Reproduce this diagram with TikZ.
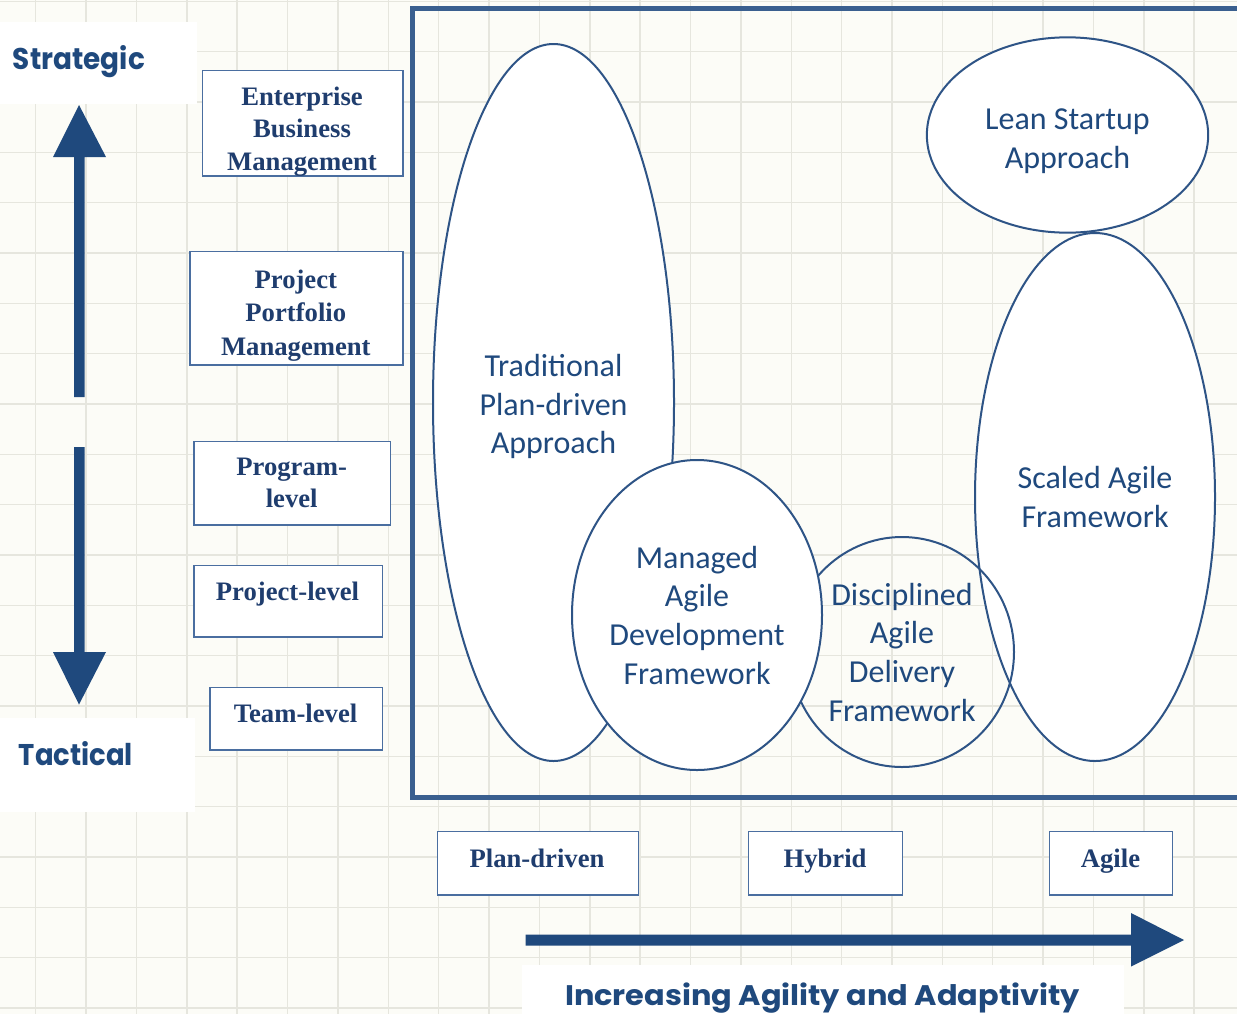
\documentclass[tikz,border=0pt]{standalone}
\usepackage{fontspec}
\setmainfont{Liberation Serif}
\newfontfamily\calfont{Carlito}
\newfontfamily\geofont{Poppins}
\usetikzlibrary{shapes.geometric}
\definecolor{bgc}{HTML}{FCFCF7}
\definecolor{gridc}{HTML}{E6E6DE}
\definecolor{navy}{HTML}{1F497D}
\definecolor{framec}{HTML}{3A5F8F}
\definecolor{boxc}{HTML}{4A6EA0}
\definecolor{ellc}{HTML}{2E5486}
\definecolor{boxtext}{HTML}{1F3D6E}
\tikzset{
  lvlbox/.style={draw=boxc, line width=1.1pt, fill=white, inner sep=0pt, anchor=north west},
  boxlabel/.style={text=boxtext, font=\fontsize{20pt}{24.5pt}\selectfont\bfseries, align=center, inner sep=0pt},
  approach/.style={ellipse, draw=ellc, line width=1.5pt, fill=white, inner sep=0pt, align=center,
     text=navy, font=\calfont\fontsize{24pt}{29pt}\selectfont},
  bigarrow/.style={fill=navy, draw=none},
  whitepatch/.style={fill=white, draw=none},
  axislabel/.style={text=navy, inner sep=0pt, anchor=base}
}
\begin{document}
\begin{tikzpicture}[x=0.75pt,y=-0.75pt]
\useasboundingbox (0,0) rectangle (1237,1014);
\clip (0,0) rectangle (1237,1014);
% background and grid
\fill[bgc] (0,0) rectangle (1237,1014);
\foreach \k in {0,...,24} {
  \draw[gridc, line width=1.1pt] ({35.7+50.37*\k},0) -- ({35.7+50.37*\k},1014);
}
\foreach \k in {0,...,20} {
  \draw[gridc, line width=1.1pt] (0,{1.3+50.33*\k}) -- (1237,{1.3+50.33*\k});
}
% white patches
\fill[whitepatch] (0,22) rectangle (197,104);
\fill[whitepatch] (0,718) rectangle (195,812);
\fill[whitepatch] (522,965) rectangle (1124,1014);

% axis labels
\node[axislabel] (strategic) at (79,69) {\resizebox{99pt}{18pt}{\geofont\bfseries Strategic}};
\node[axislabel] (tactical) at (76,765.7) {\resizebox{85.5pt}{18pt}{\geofont\bfseries Tactical}};
\node[axislabel] (increasing) at (822.5,1005.5) {\resizebox{386pt}{17pt}{\geofont\bfseries Increasing Agility and Adaptivity}};

% big arrows
\fill[bigarrow] (74,397) -- (74,157) -- (53,157) -- (79,105) -- (106,157) -- (84.5,157) -- (84.5,397) -- cycle;
\fill[bigarrow] (74,447) -- (74,652) -- (53,652) -- (79,704.5) -- (106,652) -- (84.5,652) -- (84.5,447) -- cycle;
\fill[bigarrow] (525.5,934.5) -- (1131,934.5) -- (1131,913) -- (1184,940) -- (1131,966.5) -- (1131,945.5) -- (525.5,945.5) -- cycle;

% main frame
\draw[framec, line width=3.2pt] (1260,8.5) -- (412.5,8.5) -- (412.5,797.5) -- (1260,797.5);

% level boxes
\node[lvlbox, minimum width=150.5pt, minimum height=79pt] (ebm) at (201.7,70) {};
\node[boxlabel] (ebmt) at (302,131.6) {Enterprise\\Business\\Management};
\node[lvlbox, minimum width=159.8pt, minimum height=85pt] (ppm) at (189.3,250.7) {};
\node[boxlabel, font=\fontsize{20pt}{25pt}\selectfont\bfseries] (ppmt) at (295.8,315.4) {Project\\Portfolio\\Management};
\node[lvlbox, minimum width=147.5pt, minimum height=62.3pt] (prg) at (193.3,441) {};
\node[boxlabel] (prgt) at (291.7,483) {Program-\\level};
\node[lvlbox, minimum width=141.3pt, minimum height=53.3pt] (prj) at (193.3,565) {};
\node[boxlabel] (prjt) at (287.5,593.9) {Project-level};
\node[lvlbox, minimum width=129.3pt, minimum height=47pt] (team) at (209.3,686.7) {};
\node[boxlabel] (teamt) at (295.5,713.2) {Team-level};

% approach boxes
\node[lvlbox, minimum width=151pt, minimum height=47.3pt] (pd) at (436.5,831) {};
\node[boxlabel] (pdt) at (537,858) {Plan-driven};
\node[lvlbox, minimum width=115.5pt, minimum height=47.3pt] (hy) at (748,831) {};
\node[boxlabel] (hyt) at (825,860.9) {Hybrid};
\node[lvlbox, minimum width=92.3pt, minimum height=47.3pt] (ag) at (1048.8,831) {};
\node[boxlabel] (agt) at (1110.5,860.9) {Agile};

% approaches (ellipses)
\node[approach, minimum width=180.75pt, minimum height=537.75pt] (trad) at (553.5,402.5) {\rule{0pt}{23pt}Traditional\\Plan-driven\\Approach};
\node[approach, minimum width=180pt, minimum height=396pt] (safe) at (1095,497) {Scaled Agile\\Framework};
\node[approach, minimum width=211pt, minimum height=146.5pt] (lean) at (1067.5,135) {\rule{0pt}{25pt}Lean Startup\\Approach};
\node[approach, fill=none, minimum width=168pt, minimum height=172.5pt] (dad) at (902,652) {Disciplined\\Agile\\Delivery\\Framework};
\node[approach, minimum width=187.5pt, minimum height=232.5pt] (madf) at (697,615) {Managed\\Agile\\Development\\Framework};
\end{tikzpicture}
\end{document}
